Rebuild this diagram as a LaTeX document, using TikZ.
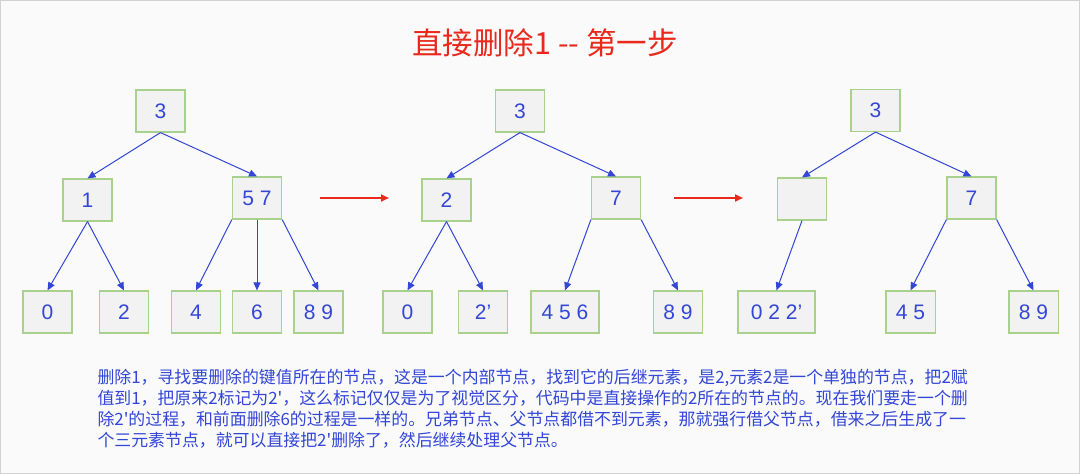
\documentclass[tikz,border=0pt]{standalone}
\usepackage{fontspec}
\setmainfont{Liberation Sans}
\newfontfamily\cjk{Noto Sans CJK SC}
\usetikzlibrary{arrows.meta}
\usetikzlibrary{positioning}

\definecolor{nodefill}{HTML}{F2F2F2}
\definecolor{nodeline}{HTML}{A9D18E}
\definecolor{keyblue}{HTML}{3346D6}
\definecolor{stepred}{HTML}{E8291C}
\definecolor{pagebg}{HTML}{FAFAFA}

\begin{document}
\begin{tikzpicture}[x=1pt,y=-1pt,->,>={Triangle[length=8pt,width=7pt]},
  keyblue,line width=1pt,
  main node/.style={rectangle,fill=nodefill,draw=nodeline,line width=1.2pt,
  text=keyblue,font=\fontsize{21}{21}\selectfont,
  minimum width=49pt,minimum height=42pt,inner xsep=10pt},
  step arrow/.style={stepred,line width=2pt}]

  \useasboundingbox (0,0) rectangle (1080,474);
  \draw[-,fill=pagebg,draw=gray!35] (0.5,0.5) rectangle (1079.5,473.5);

  \node[font=\cjk\fontsize{30.5}{30.5}\selectfont,text=stepred] (TTL) at (545,43) {直接删除1 -- 第一步};

  % first tree: before deleting 1
  \node[main node] (R1) at (160.5,111) {3};
  \node[main node] (K1) at (87.5,200) {1};
  \node[main node] (S1) at (257,198) {5 7};
  \node[main node] (Z1) at (47.5,312) {0};
  \node[main node] (T1) at (124,312) {2};
  \node[main node] (F1) at (196,312) {4};
  \node[main node] (X1) at (257,312) {6};
  \node[main node] (N1) at (318.5,312) {8 9};

  % second tree: 2 moved up, old 2 marked as 2'
  \node[main node] (R2) at (520,111) {3};
  \node[main node] (K2) at (446.5,200) {2};
  \node[main node] (S2) at (616,198) {7};
  \node[main node] (Z2) at (407.5,312) {0};
  \node[main node] (T2) at (483,312) {2’};
  \node[main node,minimum width=68pt] (F2) at (565,312) {4 5 6};
  \node[main node] (N2) at (678,312) {8 9};

  % third tree: empty node after merging
  \node[main node] (R3) at (875.5,110.5) {3};
  \node[main node] (K3) at (802,199) {};
  \node[main node] (S3) at (971.5,198) {7};
  \node[main node,minimum width=77pt] (Z3) at (776.5,312) {0 2 2’};
  \node[main node] (F3) at (910.5,312) {4 5};
  \node[main node] (N3) at (1033.5,312) {8 9};

  \coordinate (G1) at (320,198);
  \coordinate (H1) at (389,198);
  \coordinate (G2) at (674,198);
  \coordinate (H2) at (743,198);

  \path
  	%First tree
  	(R1.south) edge (K1.north)
  	(R1.south) edge (S1.north)
  	(K1.south) edge (Z1.north)
  	(K1.south) edge (T1.north)
  	(S1.south west) edge (F1.north)
  	(S1.south) edge (X1.north)
  	(S1.south east) edge (N1.north)
  	%Second tree
  	(R2.south) edge (K2.north)
  	(R2.south) edge (S2.north)
  	(K2.south) edge (Z2.north)
  	(K2.south) edge (T2.north)
  	(S2.south west) edge (F2.north)
  	(S2.south east) edge (N2.north)
  	%Third tree
  	(R3.south) edge (K3.north)
  	(R3.south) edge (S3.north)
  	(K3.south) edge (Z3.north)
  	(S3.south west) edge (F3.north)
  	(S3.south east) edge (N3.north);

  %Steps between the trees
  \draw[step arrow] (G1) -- (H1);
  \draw[step arrow] (G2) -- (H2);

  \node[anchor=north west,inner sep=0pt,align=left,text=keyblue,
  	font=\cjk\fontsize{16.9}{21}\selectfont] (TXT) at (97,369)
  	{删除1，寻找要删除的键值所在的节点，这是一个内部节点，找到它的后继元素，是2,元素2是一个单独的节点，把2赋\\
  	值到1，把原来2标记为2'，这么标记仅仅是为了视觉区分，代码中是直接操作的2所在的节点的。现在我们要走一个删\\
  	除2'的过程，和前面删除6的过程是一样的。兄弟节点、父节点都借不到元素，那就强行借父节点，借来之后生成了一\\
  	个三元素节点，就可以直接把2'删除了，然后继续处理父节点。};

\end{tikzpicture}
\end{document}
